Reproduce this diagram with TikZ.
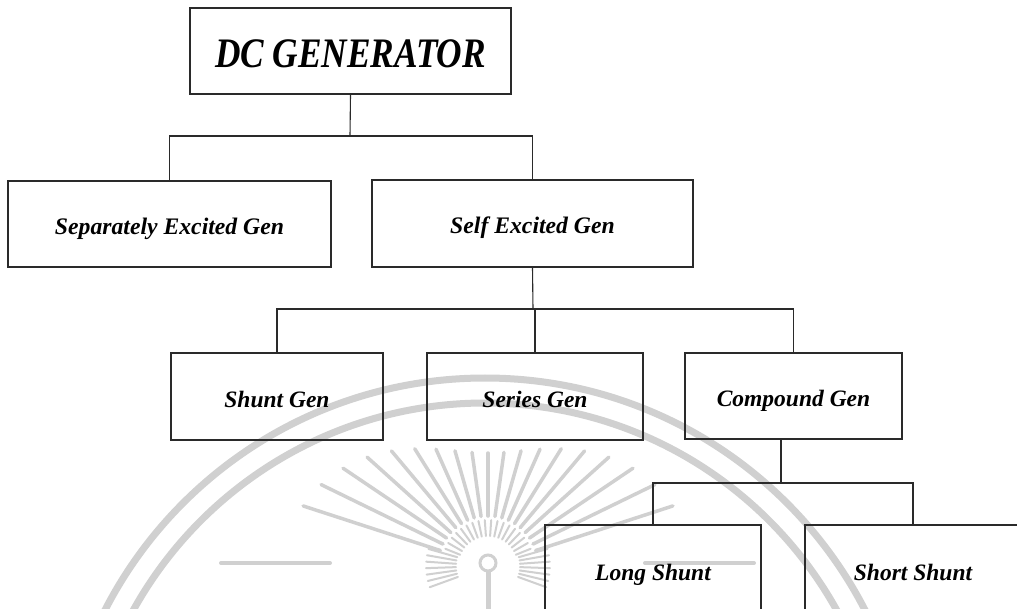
\documentclass[tikz,border=0pt]{standalone}
\usepackage{fontspec}
\setmainfont{Liberation Serif}
\usetikzlibrary{calc}
\definecolor{ink}{HTML}{2A2A2A}
\definecolor{wmark}{HTML}{D0D0D0}
\tikzset{
  gbox/.style={draw=ink, line width=1.2pt, rectangle, inner sep=0pt,
               text height=21pt, text depth=0pt, align=center},
  lvlA/.style={gbox, font=\fontsize{42}{48}\selectfont\bfseries\itshape, text height=33.5pt},
  lvlB/.style={gbox, font=\fontsize{23.7}{28}\selectfont\bfseries\itshape},
  lvlC/.style={gbox, font=\fontsize{23.5}{28}\selectfont\bfseries\itshape},
  wire/.style={draw=ink, line width=1.1pt},
  wm/.style={draw=wmark, line width=7pt},
  ray/.style={draw=wmark, line width=3.5pt, line cap=round},
}
\begin{document}
\begin{tikzpicture}[x=1pt,y=-1pt]
\useasboundingbox (0,0) rectangle (1017,609);
\clip (0,0) rectangle (1017,609);
\fill[white] (0,0) rectangle (1017,609);

% ---- faint watermark ----
\draw[wm] (485,805) circle (427);
\draw[wm] (485,805) circle (402);
\coordinate (sun) at (488,566);
\foreach \a in {198,206,...,342} {
  \pgfmathsetmacro\L{113+90*(cos(\a))^2}
  \draw[ray] ($(sun)+(\a:50)$) -- ($(sun)+(\a:\L)$);
}
\foreach \a in {202,210,...,338} {
  \draw[ray, line width=2pt] ($(sun)+(\a:30)$) -- ($(sun)+(\a:46)$);
}
\foreach \a in {160,166,...,196,344,350,...,380} {
  \draw[ray, line width=2pt] ($(sun)+(\a:32)$) -- ($(sun)+(\a:62)$);
}
\draw[ray, line width=4pt] (221,563) -- (330,563);
\draw[ray, line width=4pt] (645,563) -- (754,563);
\draw[wm, line width=3pt] (488,563) circle (8);
\draw[wm, line width=5pt] (488,572) -- (488,609);

% ---- boxes ----
\node[lvlA, minimum width=321, minimum height=86] (dc) at (350.5,51)
  {\scalebox{0.84}[1]{DC GENERATOR}};

\node[lvlB, minimum width=323, minimum height=86] (sep) at (169.5,224)
  {Separately Excited Gen};
\node[lvlB, minimum width=321, minimum height=87] (self) at (532.5,223.5)
  {Self Excited Gen};

\node[lvlC, minimum width=212, minimum height=87] (shunt) at (277,396.5) {Shunt Gen};
\node[lvlC, minimum width=216, minimum height=87] (series) at (535,396.5) {Series Gen};
\node[lvlC, minimum width=217, minimum height=86] (comp) at (793.5,396) {Compound Gen};

\node[lvlC, minimum width=216, minimum height=90] (long) at (653,570) {Long Shunt};
\node[lvlC, minimum width=216, minimum height=90] (short) at (913,570) {Short Shunt};

% ---- connectors ----
\coordinate (j2) at (350,136);
\coordinate (j3) at (533,309);
\coordinate (j4) at (781,483);

\draw[wire] (dc.south) -- (j2);
\draw[wire] (sep.north) |- (j2) -| (self.north);

\draw[wire] (self.south) -- (j3);
\draw[wire] (shunt.north) |- (j3) -| (comp.north);
\draw[wire] (series.north) -- (series.north |- j3);

\draw[wire] (j4 |- comp.south) -- (j4);
\draw[wire] (long.north) |- (j4) -| (short.north);
\end{tikzpicture}
\end{document}
